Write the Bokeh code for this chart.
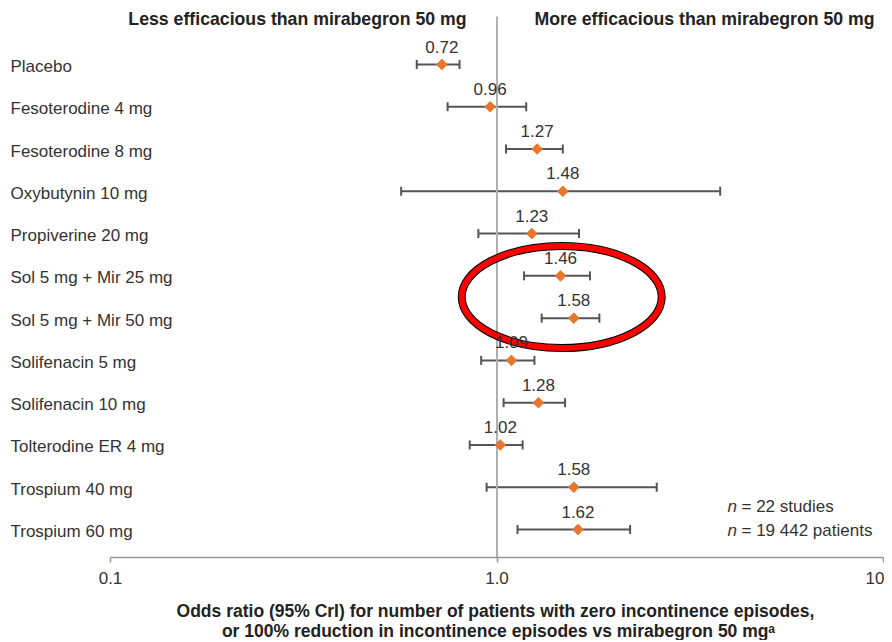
from bokeh.plotting import figure
from bokeh.layouts import column
from bokeh.models import (ColumnDataSource, Range1d, FixedTicker, Whisker,
                          TeeHead, Label, LabelSet)
from bokeh.core.properties import value
from bokeh.embed import file_html
from bokeh.resources import INLINE
import math

# ---------------- data ----------------
treatments = ["Placebo", "Fesoterodine 4 mg", "Fesoterodine 8 mg", "Oxybutynin 10 mg",
              "Propiverine 20 mg", "Sol 5 mg + Mir 25 mg", "Sol 5 mg + Mir 50 mg",
              "Solifenacin 5 mg", "Solifenacin 10 mg", "Tolterodine ER 4 mg",
              "Trospium 40 mg", "Trospium 60 mg"]
odds_ratio = [0.72, 0.96, 1.27, 1.48, 1.23, 1.46, 1.58, 1.09, 1.28, 1.02, 1.58, 1.62]
cri_low = [0.62, 0.745, 1.055, 0.565, 0.895, 1.175, 1.305, 0.91, 1.04, 0.85, 0.94, 1.13]
cri_high = [0.80, 1.19, 1.48, 3.78, 1.63, 1.74, 1.84, 1.25, 1.50, 1.165, 2.59, 2.21]
highlighted = ["Sol 5 mg + Mir 25 mg", "Sol 5 mg + Mir 50 mg"]
null_value = 1.0
x_ticks = [0.1, 1.0, 10.0]
x_tick_labels = ["0.1", "1.0", "10"]
header_left = "Less efficacious than mirabegron 50 mg"
header_right = "More efficacious than mirabegron 50 mg"
xlabel_1 = "Odds ratio (95% CrI) for number of patients with zero incontinence episodes,"
xlabel_2 = "or 100% reduction in incontinence episodes vs mirabegron 50 mg\u1d43"
note_1 = "= 22 studies"
note_2 = "= 19 442 patients"

FONT = "Liberation Sans"
TXT = "#333333"
HEAD = "#222222"
ORANGE = "#E8772E"

rows = list(range(len(treatments)))
src = ColumnDataSource(dict(
    row=rows, name=treatments, est=odds_ratio, lo=cri_low, hi=cri_high,
    lab=[f"{v:.2f}" for v in odds_ratio],
))

# ---------------- layout geometry (picture pixels) ----------------
W = 884
H_MAIN, H_TITLE = 598, 42
X_LO_PX, X_HI_PX = 110, 883        # where 0.1 and 10 sit
AXIS_Y = 557                       # frame bottom / axis line
ROW0_PX, ROWN_PX = 64, 529         # first and last row centres
REF_TOP_PX = 16                    # top end of the null line
n_rows = len(treatments)
px_per_dec = (X_HI_PX - X_LO_PX) / (math.log10(x_ticks[-1]) - math.log10(x_ticks[0]))
x_start = x_ticks[0] * 10 ** (-X_LO_PX / px_per_dec)
x_end = x_ticks[-1] * 10 ** ((W - X_HI_PX) / px_per_dec)
px_per_row = (ROWN_PX - ROW0_PX) / (n_rows - 1)
y_top = -ROW0_PX / px_per_row
y_bot = (n_rows - 1) + (AXIS_Y - ROWN_PX) / px_per_row
y_ref_top = (REF_TOP_PX - ROW0_PX) / px_per_row

p = figure(width=W, height=H_MAIN, x_axis_type="log", output_backend="svg",
           toolbar_location=None,
           x_range=Range1d(x_start, x_end), y_range=Range1d(y_bot, y_top),
           min_border_left=0, min_border_right=0, min_border_top=0,
           min_border_bottom=H_MAIN - AXIS_Y)
p.outline_line_color = None
p.xgrid.visible = False
p.ygrid.visible = False
p.yaxis.visible = False
p.background_fill_color = "white"
p.border_fill_color = "white"

# x axis
xa = p.xaxis[0]
xa.bounds = (x_ticks[0], x_ticks[-1])
xa.ticker = FixedTicker(ticks=x_ticks, minor_ticks=[])
xa.major_label_overrides = {t: l for t, l in zip(x_ticks, x_tick_labels)}
xa.axis_line_color = "#999999"
xa.axis_line_width = 1.5
xa.major_tick_line_color = "#999999"
xa.major_tick_line_width = 1.5
xa.major_tick_in = 0
xa.major_tick_out = 5
xa.minor_tick_line_color = None
xa.major_label_standoff = 9
xa.major_label_text_font = FONT
xa.major_label_text_font_size = "17px"
xa.major_label_text_color = TXT

# reference line at OR = 1
p.segment(x0=[null_value], x1=[null_value], y0=[y_ref_top], y1=[y_bot],
          line_color="#b0b0b0", line_width=2)

# highlight ellipse around the combination rows
hi_idx = [treatments.index(t) for t in highlighted]
lo_min = min(cri_low[i] for i in hi_idx)
hi_max = max(cri_high[i] for i in hi_idx)
cx = math.sqrt(lo_min * hi_max)
cy = sum(hi_idx) / len(hi_idx)
p.ellipse(x=[cx], y=[cy], width=200, height=102, width_units="screen",
          height_units="screen", fill_color=None, line_color="black", line_width=8)
p.ellipse(x=[cx], y=[cy], width=200, height=102, width_units="screen",
          height_units="screen", fill_color=None, line_color="#FF0000", line_width=6)

# error bars
wh = Whisker(source=src, base="row", lower="lo", upper="hi", dimension="width",
             line_color="#555555", line_width=2,
             lower_head=TeeHead(size=9, line_color="#555555", line_width=2),
             upper_head=TeeHead(size=9, line_color="#555555", line_width=2))
p.add_layout(wh)

# points
p.scatter(x="est", y="row", source=src, marker="square", angle=math.pi / 4,
          size=7.5, fill_color=ORANGE, line_color=ORANGE)

# value labels
p.text(x="est", y="row", text="lab", source=src, text_align="center",
       text_baseline="alphabetic", y_offset=-18, text_font=value(FONT),
       text_font_size="17px", text_color=TXT)

def ry(y_pic):
    return AXIS_Y - y_pic

# row labels (frame starts at picture x = 0)
p.add_layout(LabelSet(x=10, y="row", x_units="screen", text="name", source=src,
                      text_align="left", text_baseline="middle", y_offset=-2,
                      text_font=value(FONT), text_font_size="17px", text_color=TXT))

# headers
p.add_layout(Label(x=466, y=ry(18), x_units="screen", y_units="screen",
                   text=header_left, text_align="right", text_baseline="middle",
                   text_font=FONT, text_font_style="bold", text_font_size="17.7px",
                   text_color=HEAD))
p.add_layout(Label(x=534, y=ry(18), x_units="screen", y_units="screen",
                   text=header_right, text_align="left", text_baseline="middle",
                   text_font=FONT, text_font_style="bold", text_font_size="17.7px",
                   text_color=HEAD))

# study note
for ys, t in [(506, note_1), (530, note_2)]:
    p.add_layout(Label(x=727, y=ry(ys), x_units="screen", y_units="screen",
                       text="n", text_align="left", text_baseline="middle",
                       text_font=FONT, text_font_style="italic", text_font_size="17px",
                       text_color=TXT))
    p.add_layout(Label(x=741, y=ry(ys), x_units="screen", y_units="screen",
                       text=t, text_align="left", text_baseline="middle",
                       text_font=FONT, text_font_size="17px", text_color=TXT))

# ---------------- axis title strip ----------------
t = figure(width=W, height=H_TITLE, output_backend="svg", toolbar_location=None,
           x_range=Range1d(0, 1), y_range=Range1d(0, 1),
           min_border_left=0, min_border_right=0, min_border_top=0, min_border_bottom=0)
t.outline_line_color = None
t.xaxis.visible = False
t.yaxis.visible = False
t.xgrid.visible = False
t.ygrid.visible = False
t.border_fill_color = "white"

def ty(y_pic):
    return (H_MAIN + H_TITLE) - y_pic

t.add_layout(Label(x=495, y=ty(610), x_units="screen", y_units="screen",
                   text=xlabel_1, text_align="center", text_baseline="middle",
                   text_font=FONT, text_font_style="bold", text_font_size="17.5px",
                   text_color=HEAD))
t.add_layout(Label(x=498, y=ty(630), x_units="screen", y_units="screen",
                   text=xlabel_2, text_align="center", text_baseline="middle",
                   text_font=FONT, text_font_style="bold", text_font_size="17.5px",
                   text_color=HEAD))

open("out.html", "w").write(file_html(column(p, t), INLINE))
